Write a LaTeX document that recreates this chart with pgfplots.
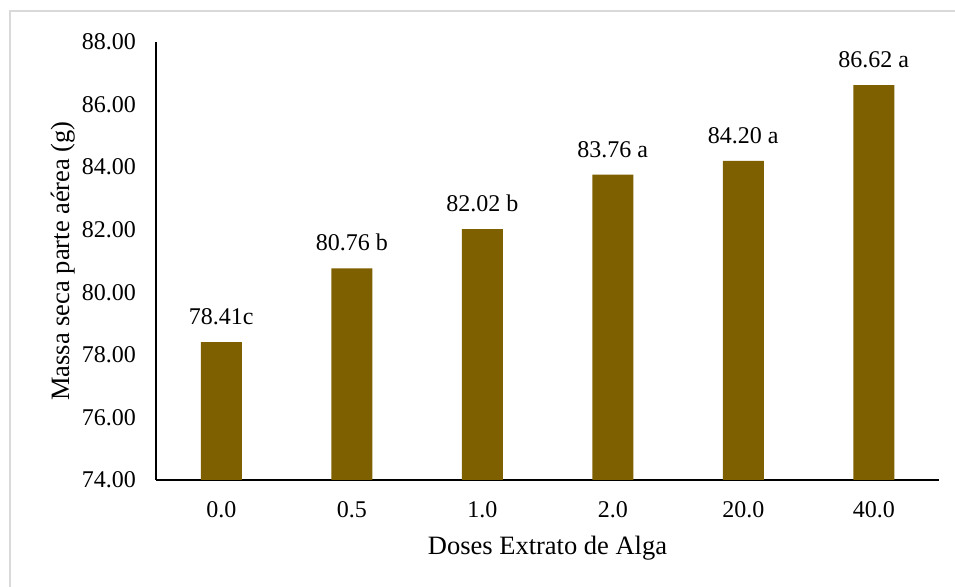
\documentclass[border=0pt]{standalone}
\usepackage{fontspec}
\setmainfont{Liberation Serif}
\usepackage{pgfplots}
\pgfplotsset{compat=1.18}
\definecolor{barbrown}{HTML}{7F6000}
\definecolor{framegray}{HTML}{D9D9D9}

\begin{document}
\begin{tikzpicture}[x=1bp,y=1bp]
\useasboundingbox (0,0) rectangle (955,587);
% outer frame
\draw[framegray, line width=1.5bp] (10,-5) -- (10,576) -- (965,576);
\begin{axis}[
  at={(156bp,107bp)}, anchor=south west,
  scale only axis, width=783bp, height=438bp,
  xmin=-0.5, xmax=5.5, ymin=74, ymax=88,
  ytick={74,76,...,88},
  xtick={0,...,5},
  xticklabels={0.0,0.5,1.0,2.0,20.0,40.0},
  major tick length=0pt,
  axis x line*=bottom, axis y line*=left,
  axis line style={black, line width=1.5bp, -},
  /pgf/number format/.cd, fixed, fixed zerofill, precision=2, assume math mode=true,
  /pgfplots/.cd,
  tick label style={font=\fontsize{24bp}{28bp}\selectfont, inner sep=0pt},
  yticklabel style={anchor=east, xshift=-20bp},
  xticklabel style={anchor=north, yshift=-21bp},
  xlabel={Doses Extrato de Alga},
  ylabel={Massa seca parte aérea (g)},
  label style={font=\fontsize{26.5bp}{30bp}\selectfont, inner sep=0pt},
  xlabel style={at={(axis description cs:0.5,-0.1712)}, anchor=base},
  ylabel style={at={(axis description cs:-0.1111,0.5)}, anchor=base},
  clip=false,
]
\addplot[ybar, bar width=41bp, fill=barbrown, draw=none,
  point meta=explicit symbolic,
  nodes near coords,
  every node near coord/.append style={font=\fontsize{24bp}{28bp}\selectfont, inner sep=0pt, anchor=south, yshift=17bp, black}]
  coordinates {
    (0,78.41) [78.41c]
    (1,80.76) [80.76 b]
    (2,82.02) [82.02 b]
    (3,83.76) [83.76 a]
    (4,84.20) [84.20 a]
    (5,86.62) [86.62 a]
  };
\end{axis}
\end{tikzpicture}
\end{document}
